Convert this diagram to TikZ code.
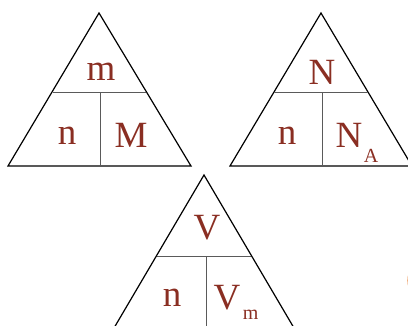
\documentclass[tikz,border=0pt]{standalone}
\usepackage{fontspec}
\setmainfont{Liberation Serif}
\usetikzlibrary{positioning, calc}
\definecolor{QtyRed}{HTML}{8A2E22}
\definecolor{RuleGray}{HTML}{5A5A5A}
\definecolor{MarkOrange}{HTML}{E8833A}

\begin{document}
\begin{tikzpicture}[
      x=1pt, y=-1pt,
      edge/.style={black, line width=1.2pt, line join=miter},
      split/.style={RuleGray, line width=1pt},
      qty/.style={QtyRed, inner sep=0pt, font=\fontsize{37}{37}\selectfont},
      sub/.style={QtyRed, inner sep=0pt, font=\fontsize{20}{20}\selectfont}
  ]
    \useasboundingbox (0,0) rectangle (408,326);
    \clip (0,0) rectangle (408,326);
    % mass triangle
    \draw[edge] (99,13) -- (8,166) -- (191,166) -- cycle;
    \draw[split] (53,93) -- (146,93);
    \draw[split] (100,93) -- (100,166);
    \node[qty](m) at (101,72){m};
    \node[qty](n1) at (67,136){n};
    \node[qty](M) at (131,135){M};
    % particle number triangle
    \draw[edge] (321,13) -- (230,166) -- (412,166) -- cycle;
    \draw[split] (274,93) -- (368,93);
    \draw[split] (322,93) -- (322,166);
    \node[qty](N) at (349,135){N};
    \node[qty](n2) at (287,136){n};
    \node[qty](Nt) at (322,72){N};
    \node[sub, anchor=north west](A) at ($(N.south east)+(1,2)$) {A};
    % volume triangle
    \draw[edge] (204,175) -- (114,328) -- (294,328) -- cycle;
    \draw[split] (157,257) -- (251,257);
    \draw[split] (206,257) -- (206,328);
    \node[qty](V) at (207,228){V};
    \node[qty](n3) at (172,298){n};
    \node[qty](Vm) at (227,298){V};
    \node[sub, anchor=north west](mm) at ($(Vm.south east)+(2,-1)$) {m};
    % cut-off mark at the right edge
    \draw[MarkOrange, line width=2.5pt] (410,288) arc[start angle=160, end angle=200, radius=22];
  \end{tikzpicture}
\end{document}
